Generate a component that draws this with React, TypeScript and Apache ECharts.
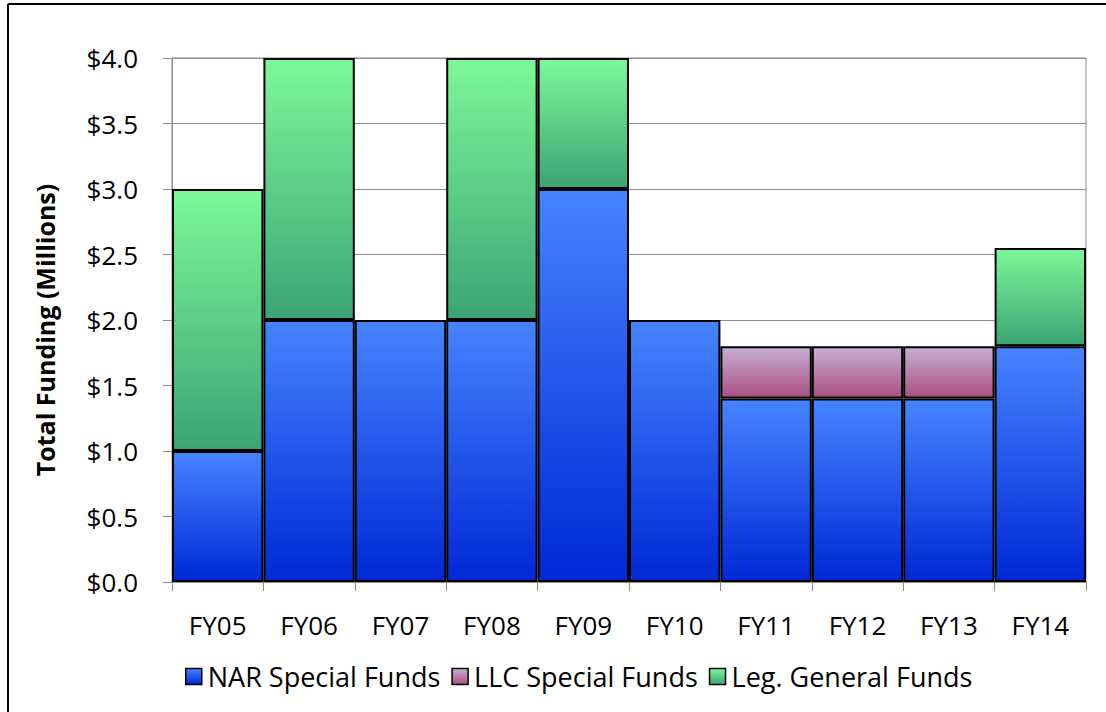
import React, { useEffect, useRef } from "react";
import * as echarts from "echarts";

const categories = ["FY05", "FY06", "FY07", "FY08", "FY09", "FY10", "FY11", "FY12", "FY13", "FY14"];
const narFunds = [1.0, 2.0, 2.0, 2.0, 3.0, 2.0, 1.4, 1.4, 1.4, 1.8];
const llcFunds = [null, null, null, null, null, null, 0.4, 0.4, 0.4, null];
const legFunds = [2.0, 2.0, null, 2.0, 1.0, null, null, null, null, 0.75];
const seriesNames = ["NAR Special Funds", "LLC Special Funds", "Leg. General Funds"];

const FONT = "'Open Sans', Lato, sans-serif";
const FS = 26;

const grad = (top: string, bottom: string) =>
  new echarts.graphic.LinearGradient(0, 0, 0, 1, [
    { offset: 0, color: top },
    { offset: 1, color: bottom },
  ]);

export default function App() {
  const ref = useRef<HTMLDivElement>(null);
  useEffect(() => {
    document.body.style.margin = "0";
    if (!ref.current) return;
    const chart = echarts.init(ref.current, null, { renderer: "svg" });
    const colors = [
      grad("#4784ff", "#0028d6"),
      grad("#c6aed4", "#ab5082"),
      grad("#7cf898", "#3ca474"),
    ];
    const mk = (i: number, data: (number | null)[]) => ({
      name: seriesNames[i],
      type: "bar",
      stack: "total",
      data,
      barCategoryGap: "0%",
      itemStyle: { color: colors[i], borderColor: "#000", borderWidth: 2 },
    });
    chart.setOption({
      animation: false,
      textStyle: { fontFamily: FONT },
      grid: {
        left: 172,
        right: 20,
        top: 58,
        bottom: 130,
        show: true,
        borderColor: "#8c8c8c",
        borderWidth: 1,
        backgroundColor: "transparent",
      },
      legend: {
        top: 663,
        left: 185,
        padding: 0,
        itemWidth: 16,
        itemHeight: 16,
        itemGap: 11,
        icon: "rect",
        textStyle: { fontSize: 27, color: "#000", fontFamily: FONT, padding: [0, 0, 0, 1] },
        itemStyle: { borderColor: "#000", borderWidth: 1.5 },
        data: seriesNames,
      },
      xAxis: {
        type: "category",
        data: categories,
        axisLine: { lineStyle: { color: "#8c8c8c", width: 1 } },
        axisTick: { show: true, length: 9, lineStyle: { color: "#8c8c8c" } },
        axisLabel: { fontSize: FS, color: "#000", margin: 30, fontFamily: FONT },
      },
      yAxis: {
        type: "value",
        min: 0,
        max: 4,
        interval: 0.5,
        name: "Total Funding (Millions)",
        nameLocation: "middle",
        nameGap: 115,
        nameTextStyle: { fontSize: 25, fontWeight: "bold", color: "#000", fontFamily: FONT, padding: [0, 20, 0, 0] },
        axisLine: { show: true, lineStyle: { color: "#8c8c8c", width: 1 } },
        axisTick: { show: true, length: 9, lineStyle: { color: "#8c8c8c" } },
        axisLabel: {
          fontSize: FS,
          color: "#000",
          margin: 34,
          fontFamily: FONT,
          formatter: (v: number) => "$" + v.toFixed(1),
        },
        splitLine: { lineStyle: { color: "#8c8c8c", width: 1 } },
      },
      graphic: [
        { type: "line", shape: { x1: 8, y1: 4, x2: 1106, y2: 4 }, style: { stroke: "#000", lineWidth: 2 } },
        { type: "line", shape: { x1: 8, y1: 4, x2: 8, y2: 712 }, style: { stroke: "#000", lineWidth: 2 } },
      ],
      series: [mk(0, narFunds), mk(1, llcFunds), mk(2, legFunds)],
    });
    return () => chart.dispose();
  }, []);
  return <div ref={ref} style={{ width: 1106, height: 712 }} />;
}
